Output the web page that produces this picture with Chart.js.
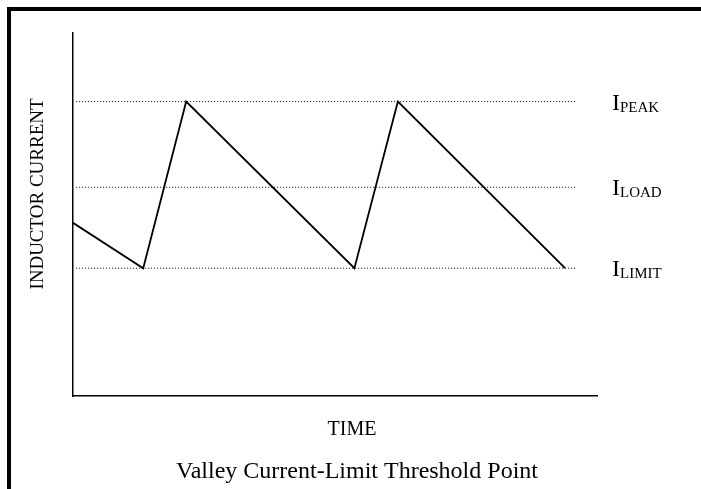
<!DOCTYPE html>
<html>
<head>
<meta charset="utf-8">
<script src="https://cdn.jsdelivr.net/npm/chart.js@4/dist/chart.umd.min.js"></script>
<style>
  html, body { margin: 0; padding: 0; background: #fff; }
  #wrap { position: relative; width: 701px; height: 489px; overflow: hidden; }
  #frame { position: absolute; left: 7px; top: 7px; width: 700px; height: 490px;
           border-top: 4px solid #000; border-left: 4px solid #000; box-sizing: border-box; }
  canvas { position: absolute; left: 0; top: 0; }
</style>
</head>
<body>
<div id="wrap">
  <div id="frame"></div>
  <canvas id="c" width="701" height="489"></canvas>
</div>
<script>
// Waveform (time units vs current units, 0..100 scale)
const waveTime    = [0, 13.4, 21.6, 53.7, 62.0, 93.9];
const waveCurrent = [47.7, 35.2, 81.1, 35.2, 81.1, 35.2];

// Reference levels
const levelNames  = ['PEAK', 'LOAD', 'LIMIT'];
const levelValues = [81.1, 57.5, 35.2];
const levelSpan   = [0.6, 96.2];   // start / end time of dotted guides

const yAxisTitle = 'INDUCTOR CURRENT';
const xAxisTitle = 'TIME';
const caption    = 'Valley Current-Limit Threshold Point';

const FONT = '"Liberation Serif", "Times New Roman", serif';

const datasets = [];
levelValues.forEach((v, i) => {
  datasets.push({
    label: 'I' + levelNames[i],
    data: levelSpan.map(t => ({ x: t, y: v })),
    showLine: true,
    borderColor: '#000',
    borderWidth: 1,
    borderDash: [1, 2],
    pointRadius: 0,
    fill: false
  });
});
datasets.push({
  label: 'Inductor current',
  data: waveTime.map((t, i) => ({ x: t, y: waveCurrent[i] })),
  showLine: true,
  borderColor: '#000',
  borderWidth: 1.8,
  pointRadius: 0,
  tension: 0,
  fill: false
});

const textPlugin = {
  id: 'texts',
  afterDraw(chart) {
    const ctx = chart.ctx;
    const ys = chart.scales.y;
    const area = chart.chartArea;
    ctx.save();
    ctx.fillStyle = '#000';
    // right labels
    levelValues.forEach((v, i) => {
      const py = ys.getPixelForValue(v);
      const x0 = area.right + 15;
      ctx.font = '24px ' + FONT;
      ctx.textBaseline = 'alphabetic';
      ctx.textAlign = 'left';
      ctx.fillText('I', x0, py + 8);
      const w = ctx.measureText('I').width;
      ctx.font = '15px ' + FONT;
      ctx.fillText(levelNames[i], x0 + w, py + 10);
    });
    // y axis title
    ctx.font = '19px ' + FONT;
    ctx.textAlign = 'center';
    ctx.textBaseline = 'middle';
    ctx.save();
    ctx.translate(38, 194);
    ctx.rotate(-Math.PI / 2);
    ctx.fillText(yAxisTitle, 0, 0);
    ctx.restore();
    // x axis title
    ctx.font = '20px ' + FONT;
    ctx.fillText(xAxisTitle, 352, 430);
    // caption
    ctx.font = '24px ' + FONT;
    ctx.fillText(caption, 357, 472);
    ctx.restore();
  }
};

new Chart(document.getElementById('c'), {
  type: 'scatter',
  data: { datasets },
  options: {
    responsive: false,
    animation: false,
    layout: { autoPadding: false, padding: { left: 73, top: 33, right: 104, bottom: 93 } },
    plugins: { legend: { display: false }, tooltip: { enabled: false } },
    scales: {
      x: {
        type: 'linear', min: 0, max: 100,
        ticks: { display: false },
        grid: { display: false, drawTicks: false, tickLength: 0 },
        border: { display: true, color: '#000', width: 1.5 }
      },
      y: {
        type: 'linear', min: 0, max: 100,
        ticks: { display: false },
        grid: { display: false, drawTicks: false, tickLength: 0 },
        border: { display: true, color: '#000', width: 1.5 }
      }
    }
  },
  plugins: [textPlugin]
});
</script>
</body>
</html>
